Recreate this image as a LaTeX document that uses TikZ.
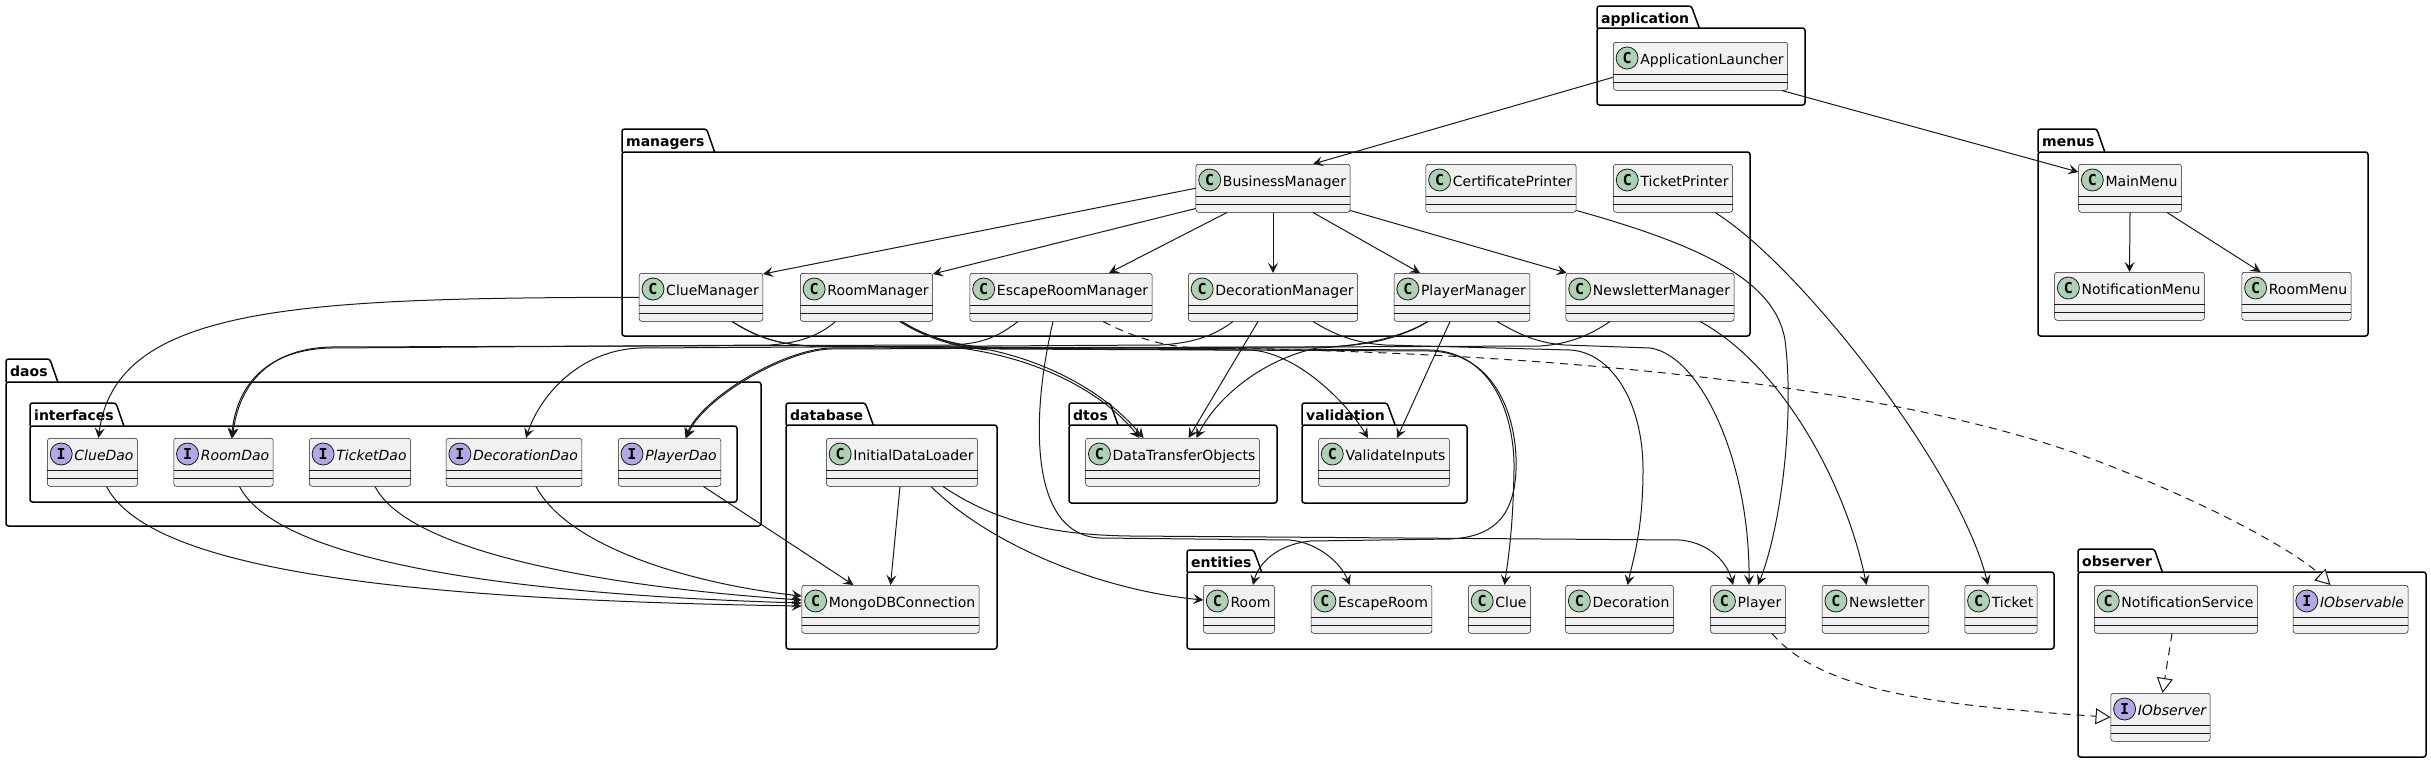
\documentclass[tikz,border=0pt]{standalone}
\usepackage{fontspec}
\setmainfont{DejaVu Sans}[ItalicFont={DejaVu Sans Oblique},BoldFont={DejaVu Sans Bold}]
\newfontfamily\circfont{DejaVu Sans Mono}[BoldFont={DejaVu Sans Mono Bold}]
\usetikzlibrary{arrows.meta,calc}
\definecolor{boxfill}{HTML}{F1F1F1}
\definecolor{linec}{HTML}{181818}
\definecolor{cgreen}{HTML}{ADD1B2}
\definecolor{ipurple}{HTML}{B4A7E5}
\tikzset{
 classbox/.style={rectangle, draw=linec, line width=0.5pt, fill=boxfill, rounded corners=2.5pt, inner xsep=0pt, inner ysep=0pt, text height=22pt, text depth=26pt, anchor=north, font=\fontsize{14}{16}\selectfont},
 sepline/.style={draw=linec, line width=0.5pt},
 circmark/.style={circle, draw=linec, line width=0.8pt, minimum size=22pt, inner sep=0pt, font=\circfont\bfseries\fontsize{15}{15}\selectfont},
 pkgline/.style={draw=black, line width=1.5pt, rounded corners=2.5pt},
 pkglabel/.style={font=\bfseries\fontsize{14}{16}\selectfont, inner sep=0pt, anchor=base west},
 dep/.style={draw=linec, line width=1pt, -{Stealth[length=10pt,width=10pt,inset=4pt]}},
 impl/.style={draw=linec, line width=1pt, dash pattern=on 8pt off 6pt, -{Triangle[open,length=15pt,width=16pt,fill=white]}},
}
\newcommand\umlbox[5]{%
 \node[classbox] (#1) at (#2,#3) {\hspace*{27pt}#5#4\hspace*{4pt}};
 \draw[sepline] ($(#1.north west)+(0,32.5)$) -- ($(#1.north east)+(0,32.5)$);
 \draw[sepline] ($(#1.north west)+(0,40.5)$) -- ($(#1.north east)+(0,40.5)$);
}
\newcommand\umlclass[4]{\umlbox{#1}{#2}{#3}{#4}{}\node[circmark,fill=cgreen] (#1-c) at ($(#1.north west)+(14,16)$) {C};}
\newcommand\umliface[4]{\umlbox{#1}{#2}{#3}{#4}{\itshape}\node[circmark,fill=ipurple] (#1-c) at ($(#1.north west)+(14,16)$) {I};}
\newcommand\umlpkg[7]{%
 \node[pkglabel] (#1) at (#3+4,#4+17) {#2};
 \draw[pkgline] (#3,#5) -- (#3,#4) -- ($(#1.east |- #3,#4)+(2,0)$) -- ($(#1.east |- #3,#5)+(10,0)$);
 \draw[pkgline] (#3,#5) rectangle (#6,#7);
}
\begin{document}
\begin{tikzpicture}[x=1pt,y=-1pt]
\useasboundingbox (0,0) rectangle (2431,763);
% packages
\umlpkg{pkgApp}{application}{1597}{6}{28}{1805}{105}
\umlpkg{pkgMgr}{managers}{622}{129}{152}{1750}{336}
\umlpkg{pkgMenus}{menus}{2038}{129}{152}{2368}{336}
\umlpkg{pkgDaos}{daos}{6}{359}{382}{761}{526}
\umlpkg{pkgIfc}{interfaces}{30}{403}{426}{737}{502}
\umlpkg{pkgDb}{database}{786}{403}{425}{997}{649}
\umlpkg{pkgDtos}{dtos}{1069}{403}{425}{1277}{503}
\umlpkg{pkgVal}{validation}{1302}{403}{425}{1467}{503}
\umlpkg{pkgEnt}{entities}{1187}{550}{572}{2054}{649}
\umlpkg{pkgObs}{observer}{2078}{549}{572}{2426}{757}
% classes
\umlclass{ApplicationLauncher}{1700.5}{42}{ApplicationLauncher}
\umlclass{BusinessManager}{1273}{164}{BusinessManager}
\umlclass{CertificatePrinter}{1501}{164}{CertificatePrinter}
\umlclass{TicketPrinter}{1673}{164}{TicketPrinter}
\umlclass{ClueManager}{701}{273}{ClueManager}
\umlclass{RoomManager}{866.5}{273}{RoomManager}
\umlclass{EscapeRoomManager}{1061}{273}{EscapeRoomManager}
\umlclass{DecorationManager}{1273}{273}{DecorationManager}
\umlclass{PlayerManager}{1462}{273}{PlayerManager}
\umlclass{NewsletterManager}{1650}{273}{NewsletterManager}
\umlclass{MainMenu}{2130}{164}{MainMenu}
\umlclass{NotificationMenu}{2129.5}{272}{NotificationMenu}
\umlclass{RoomMenu}{2296.5}{272}{RoomMenu}
\umliface{ClueDao}{92.5}{438}{ClueDao}
\umliface{RoomDao}{223.5}{438}{RoomDao}
\umliface{TicketDao}{360}{438}{TicketDao}
\umliface{DecorationDao}{514}{438}{DecorationDao}
\umliface{PlayerDao}{669.5}{438}{PlayerDao}
\umlclass{InitialDataLoader}{902}{438}{InitialDataLoader}
\umlclass{MongoDBConnection}{890.5}{585}{MongoDBConnection}
\umlclass{DataTransferObjects}{1172.5}{438}{DataTransferObjects}
\umlclass{ValidateInputs}{1384}{438}{ValidateInputs}
\umlclass{Room}{1239}{585}{Room}
\umlclass{EscapeRoom}{1371.5}{585}{EscapeRoom}
\umlclass{Clue}{1499.5}{585}{Clue}
\umlclass{Decoration}{1619.5}{585}{Decoration}
\umlclass{Player}{1748}{585}{Player}
\umlclass{Newsletter}{1875.5}{585}{Newsletter}
\umlclass{Ticket}{2001}{585}{Ticket}
\umlclass{NotificationService}{2176}{585}{NotificationService}
\umliface{IObservable}{2350.5}{585}{IObservable}
\umliface{IObserver}{2160.5}{693}{IObserver}
% application
\draw[dep] ($(ApplicationLauncher.west)+(0,11)$) -- ($(BusinessManager.north)+(40,0)$);
\draw[dep] ($(ApplicationLauncher.south east)+(-6,0)$) -- ($(MainMenu.north west)+(0,8)$);
% menus
\draw[dep] (MainMenu.south) -- (NotificationMenu.north);
\draw[dep] ($(MainMenu.south)+(37,0)$) -- ($(RoomMenu.north)+(-36,0)$);
% business manager fan
\draw[dep] (BusinessManager.west) -- ($(ClueManager.north east)+(0,1)$);
\draw[dep] ($(BusinessManager.south west)+(0,-4)$) -- ($(RoomManager.north east)+(0,1)$);
\draw[dep] ($(BusinessManager.south)+(-46,0)$) -- ($(EscapeRoomManager.north)+(48,0)$);
\draw[dep] (BusinessManager.south) -- (DecorationManager.north);
\draw[dep] ($(BusinessManager.south)+(40,0)$) -- ($(PlayerManager.north)+(-42,0)$);
\draw[dep] ($(BusinessManager.south east)+(0,-2)$) -- ($(NewsletterManager.north west)+(1,0)$);
% managers -> daos
\draw[dep] (ClueManager.west) .. controls (300,298) and (115,305) .. ($(ClueDao.north)+(6,0)$);
\draw[dep] ($(RoomManager.south)+(-31,0)$) .. controls (820,335) and (800,343) .. (770,345) -- (330,348) .. controls (262,350) and (236,390) .. ($(RoomDao.north)+(8,0)$);
\draw[dep] ($(EscapeRoomManager.south)+(-43,0)$) .. controls (1000,335) and (985,344) .. (950,345) -- (330,347) .. controls (264,349) and (238,390) .. ($(RoomDao.north)+(9,0)$);
\draw[dep] ($(DecorationManager.south)+(-40,0)$) .. controls (1215,335) and (1195,343) .. (1160,345) -- (640,348) .. controls (580,350) and (540,395) .. ($(DecorationDao.north)+(12,0)$);
\draw[dep] ($(PlayerManager.south)+(-34,0)$) .. controls (1400,338) and (1370,346) .. (1320,347) -- (830,348) .. controls (780,350) and (700,400) .. ($(PlayerDao.north)+(16,0)$);
\draw[dep] ($(NewsletterManager.south)+(-40,0)$) .. controls (1590,335) and (1570,344) .. (1540,346) -- (830,349) .. controls (782,351) and (702,400) .. ($(PlayerDao.north)+(17,0)$);
% managers -> dtos / validation
\draw[dep] ($(ClueManager.south)+(31,0)$) .. controls (755,336) and (775,344) .. (810,346) -- (960,348) .. controls (1050,360) and (1110,400) .. ($(DataTransferObjects.north)+(-33,0)$);
\draw[dep] ($(RoomManager.south)+(33,0)$) .. controls (930,340) and (960,348) .. (990,350) .. controls (1060,365) and (1112,400) .. ($(DataTransferObjects.north)+(-29,0)$);
\draw[dep] ($(DecorationManager.south)+(-15,0)$) -- ($(DataTransferObjects.north)+(16,0)$);
\draw[dep] ($(PlayerManager.south)+(-34,0)$) .. controls (1400,338) and (1360,346) .. (1317,348) .. controls (1260,360) and (1215,400) .. ($(DataTransferObjects.north)+(24,0)$);
\draw[dep] ($(RoomManager.south)+(35,0)$) .. controls (932,340) and (962,347) .. (1000,348) -- (1250,350) .. controls (1295,352) and (1345,400) .. ($(ValidateInputs.north)+(-16,0)$);
\draw[dep] ($(PlayerManager.south)+(-12,0)$) -- ($(ValidateInputs.north)+(13,0)$);
% managers -> entities
\draw[dep] ($(ClueManager.south)+(31,0)$) .. controls (755,336) and (775,344) .. (810,346) -- (1430,350) .. controls (1495,352) and (1515,420) .. (1514,470) .. controls (1513,530) and (1508,560) .. ($(Clue.north)+(5,0)$);
\draw[dep] ($(RoomManager.south)+(35,0)$) .. controls (932,340) and (962,348) .. (1000,349) -- (1430,351) .. controls (1497,353) and (1518,420) .. (1516,470) .. controls (1514,520) and (1490,537) .. (1450,539) -- (1310,541) .. controls (1275,545) and (1258,565) .. ($(Room.north)+(14,0)$);
\draw[dep] ($(EscapeRoomManager.south)+(-8,0)$) .. controls (1030,420) and (1030,535) .. (1100,538) -- (1290,540) .. controls (1320,543) and (1342,565) .. ($(EscapeRoom.north)+(-22,0)$);
\draw[dep] ($(DecorationManager.south)+(40,0)$) .. controls (1335,335) and (1355,343) .. (1385,345) -- (1570,350) .. controls (1610,352) and (1643,400) .. (1643,470) .. controls (1643,530) and (1633,560) .. ($(Decoration.north)+(8,0)$);
\draw[dep] ($(PlayerManager.south)+(35,0)$) .. controls (1520,335) and (1538,343) .. (1565,345) -- (1650,348) .. controls (1700,355) and (1750,460) .. ($(Player.north)+(1,0)$);
\draw[dep] ($(CertificatePrinter.south east)+(0,-2)$) .. controls (1700,245) and (1775,280) .. (1785,340) .. controls (1795,420) and (1780,530) .. ($(Player.north)+(10,0)$);
\draw[dep] ($(TicketPrinter.south)+(42,0)$) .. controls (1800,265) and (1960,470) .. ($(Ticket.north)+(-13,0)$);
\draw[dep] ($(NewsletterManager.south)+(50,0)$) .. controls (1780,365) and (1845,480) .. ($(Newsletter.north)+(-9,0)$);
% observer
\draw[impl] ($(EscapeRoomManager.south)+(42,0)$) .. controls (1135,338) and (1165,347) .. (1200,348) .. controls (1550,352) and (1900,385) .. (2100,462) .. controls (2220,508) and (2300,555) .. ($(IObservable.north)+(-20,0)$);
\draw[impl] ($(Player.south)+(24,0)$) .. controls (1820,690) and (1930,705) .. (IObserver.west);
\draw[impl] ($(NotificationService.south)+(-4,0)$) -- ($(IObserver.north)+(2,0)$);
% database
\draw[dep] ($(InitialDataLoader.south)+(-2,0)$) -- (MongoDBConnection.north);
\draw[dep] ($(InitialDataLoader.south)+(29,0)$) .. controls (990,545) and (1100,590) .. ($(Room.north west)+(0,15)$);
\draw[dep] ($(InitialDataLoader.south)+(41,0)$) .. controls (1000,525) and (1060,535) .. (1130,536) -- (1680,540) .. controls (1712,543) and (1728,565) .. ($(Player.north)+(-15,0)$);
% daos -> mongo
\draw[dep] ($(ClueDao.south)+(14,0)$) .. controls (150,570) and (400,600) .. ($(MongoDBConnection.north west)+(0,21)$);
\draw[dep] ($(RoomDao.south)+(16,0)$) .. controls (280,565) and (530,595) .. ($(MongoDBConnection.north west)+(0,18)$);
\draw[dep] ($(TicketDao.south)+(15,0)$) .. controls (410,555) and (620,588) .. ($(MongoDBConnection.north west)+(0,15)$);
\draw[dep] ($(DecorationDao.south)+(22,0)$) .. controls (570,550) and (700,585) .. ($(MongoDBConnection.north west)+(0,11)$);
\draw[dep] ($(PlayerDao.south)+(34,0)$) -- ($(MongoDBConnection.north)+(-37,0)$);
\end{tikzpicture}
\end{document}
